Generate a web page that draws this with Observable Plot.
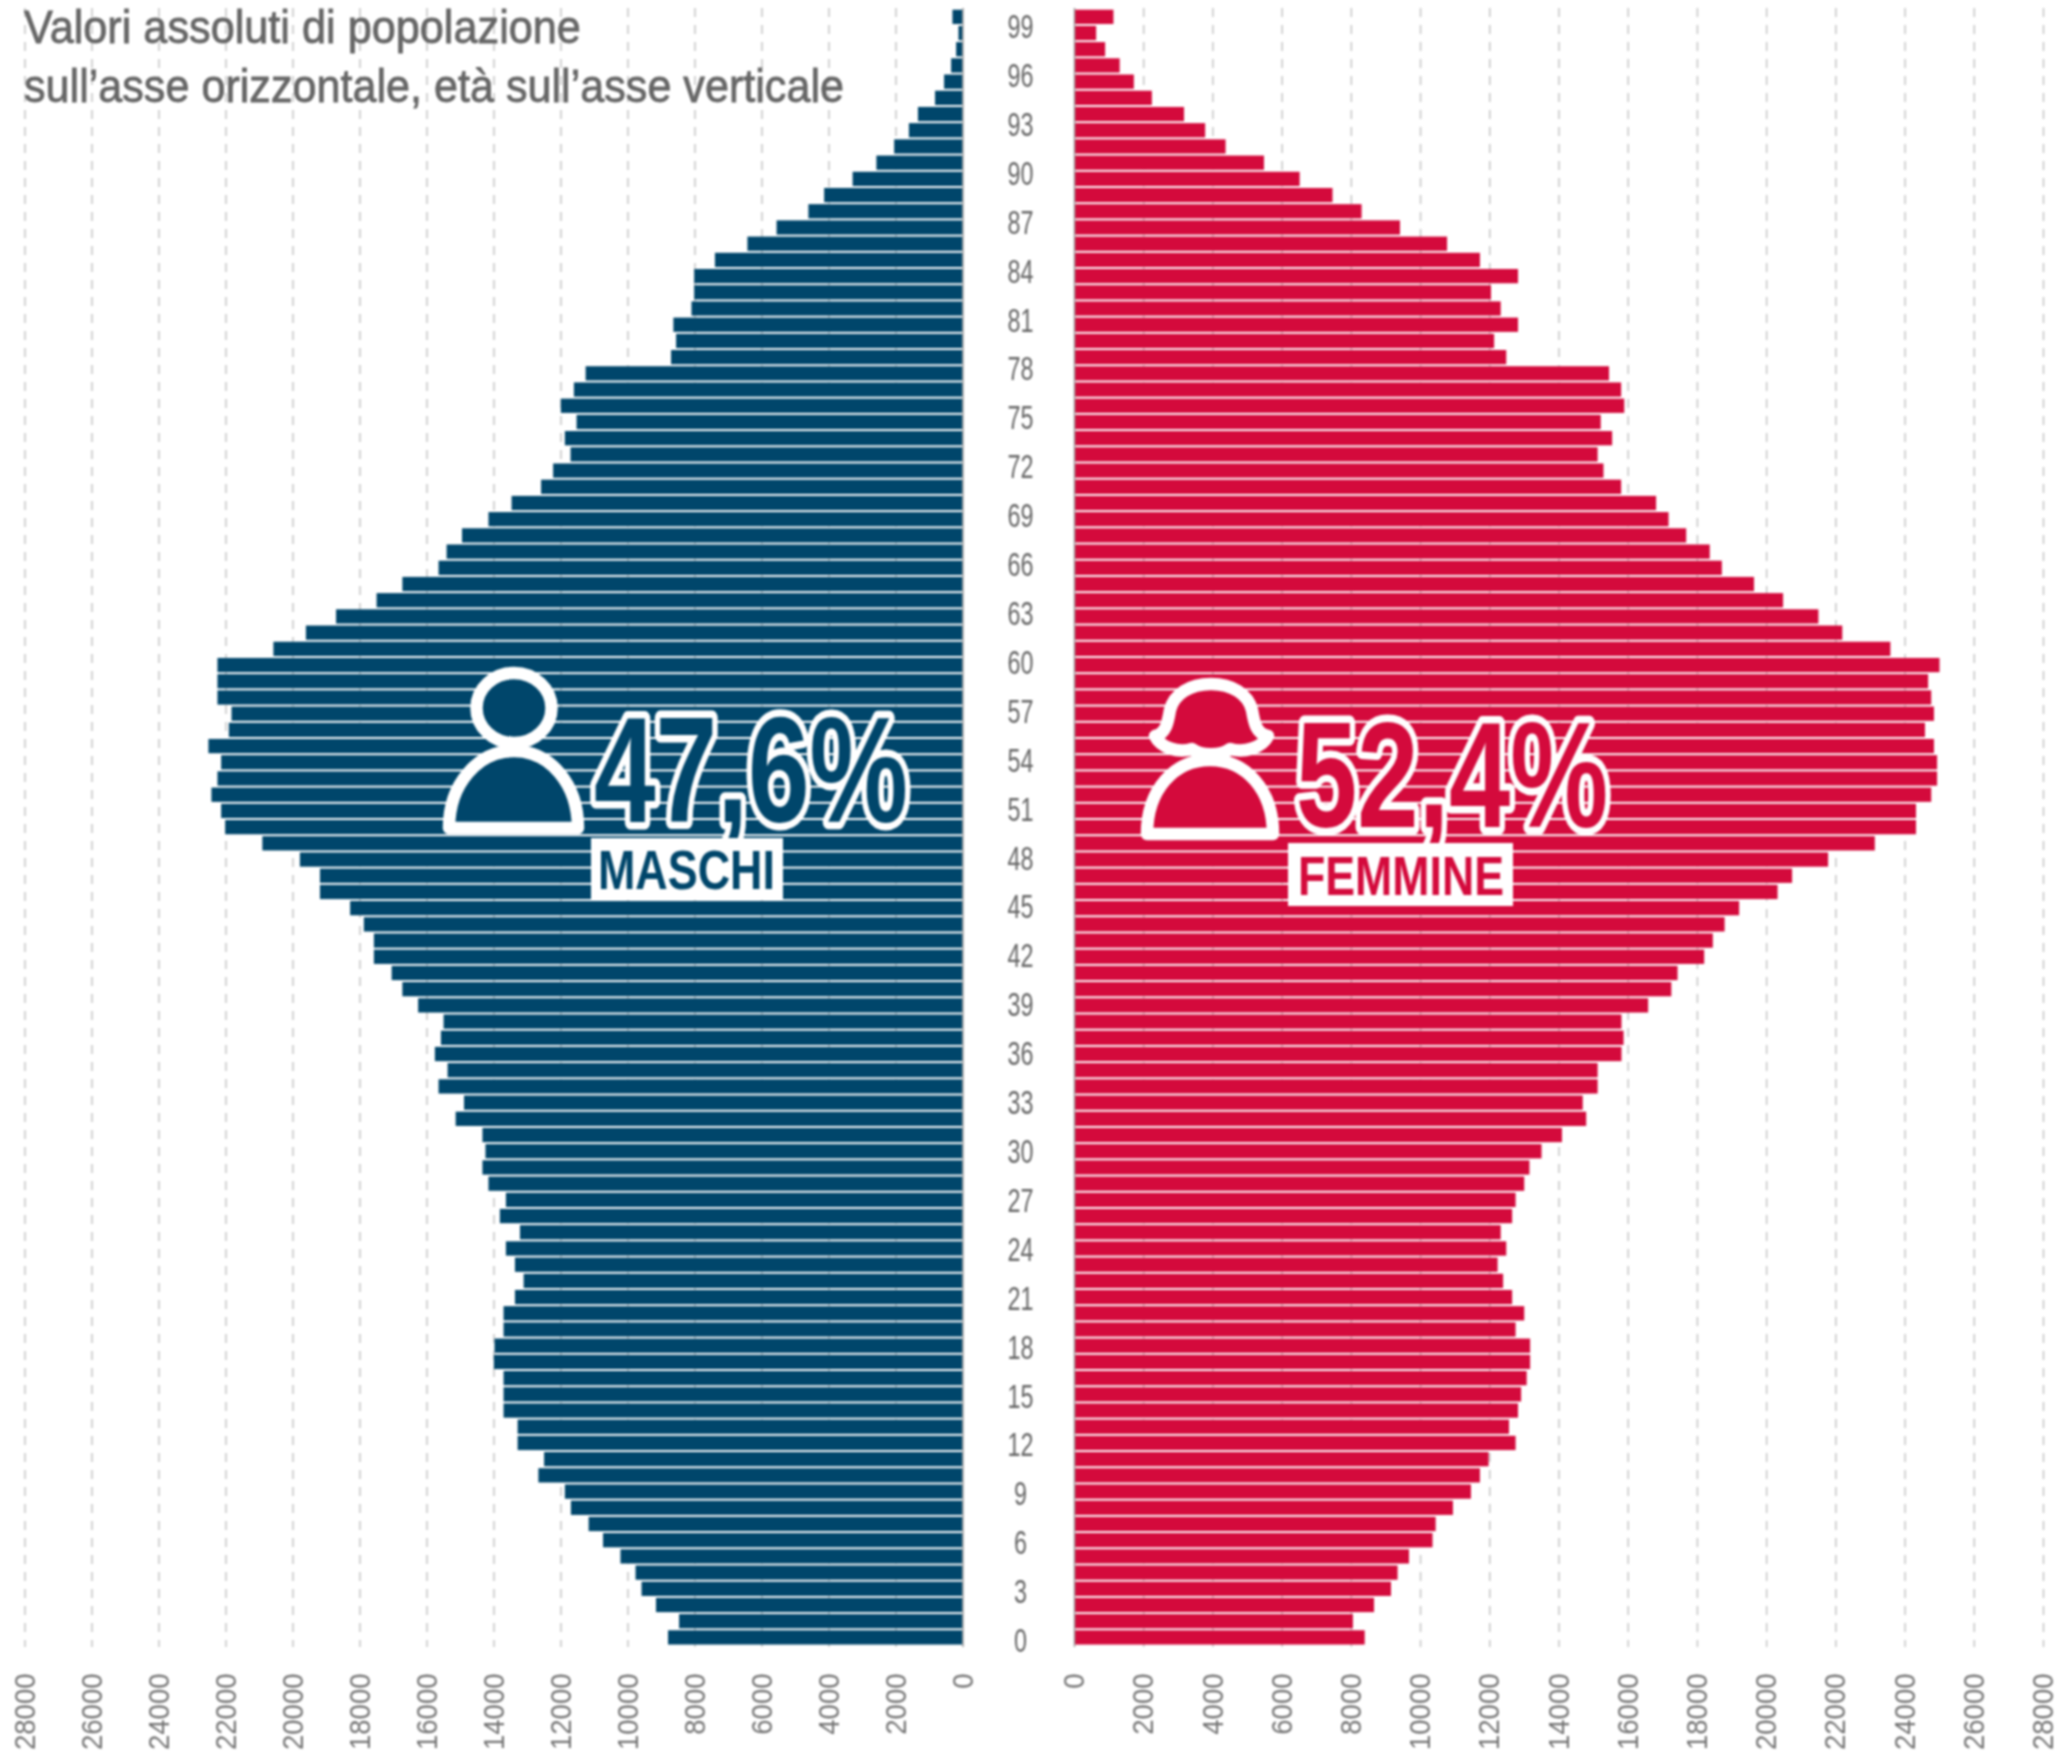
<!DOCTYPE html>
<html lang="it">
<head>
<meta charset="utf-8">
<title>Piramide della popolazione</title>
<script src="https://cdn.jsdelivr.net/npm/d3@7"></script>
<script src="https://cdn.jsdelivr.net/npm/@observablehq/plot@0.6"></script>
<style>
  html, body { margin: 0; padding: 0; background: #fff; }
  #chart { position: relative; width: 2061px; height: 1754px; overflow: hidden; filter: blur(0.8px); }
  #chart > svg { position: absolute; top: 0; overflow: visible; background: transparent; }
</style>
</head>
<body>
<div id="chart"></div>
<script>
// Ages from the top row (100) down to 0
const ages = d3.range(100, -1, -1);

const males = [
  300, 120, 190, 340, 550, 820, 1330, 1600, 2040, 2570,
  3280, 4130, 4600, 5550, 6420, 7390, 8010, 8010, 8090, 8630,
  8550, 8700, 11250, 11600, 11990, 11520, 11870, 11700, 12220, 12580,
  13460, 14150, 14940, 15400, 15640, 16720, 17490, 18700, 19600, 20570,
  22240, 22240, 22240, 21820, 21900, 22510, 22130, 22240, 22420, 22130,
  22010, 20900, 19780, 19180, 19180, 18280, 17870, 17570, 17570, 17040,
  16720, 16250, 15490, 15570, 15750, 15370, 15640, 14880, 15130, 14330,
  14240, 14330, 14150, 13630, 13810, 13210, 13630, 13360, 13100, 13360,
  13700, 13700, 13970, 13990, 13700, 13700, 13700, 13280, 13280, 12490,
  12660, 11870, 11690, 11160, 10730, 10210, 9760, 9580, 9150, 8460,
  8790
];

const females = [
  1140, 640, 900, 1320, 1730, 2250, 3180, 3790, 4380, 5490,
  6520, 7470, 8310, 9420, 10780, 11730, 12830, 12050, 12330, 12830,
  12140, 12490, 15460, 15810, 15900, 15220, 15550, 15130, 15300, 15810,
  16820, 17180, 17690, 18370, 18720, 19650, 20490, 21510, 22200, 23590,
  25010, 24680, 24770, 24850, 24590, 24850, 24940, 24940, 24770, 24330,
  24330, 23140, 21790, 20750, 20330, 19220, 18800, 18460, 18210, 17440,
  17260, 16590, 15820, 15880, 15820, 15130, 15130, 14700, 14800, 14100,
  13510, 13160, 13010, 12760, 12660, 12330, 12490, 12240, 12400, 12660,
  13010, 12760, 13180, 13180, 13080, 12920, 12830, 12570, 12760, 11980,
  11730, 11470, 10950, 10450, 10360, 9680, 9350, 9160, 8670, 8060,
  8400
];

const xTicks = d3.range(0, 28001, 2000);
const ageTicks = d3.range(0, 100, 3);

const titleLines = ["Valori assoluti di popolazione", "sull’asse orizzontale, età sull’asse verticale"];
const maleShare = "47,6%", maleLabel = "MASCHI";
const femaleShare = "52,4%", femaleLabel = "FEMMINE";

const NAVY = "#00466b", RED = "#d40a3c", GRID = "#c4c4c4", INK = "#666666", TICK = "#747474";
const SANS = "'Liberation Sans',sans-serif";
const yScale = {type: "band", domain: ages, range: [7.76, 1646.5], padding: 0.12, round: false, axis: null};

// No condensed face is installed: squeeze the regular one to the reference's widths
const squeeze = (sel, perChar) => sel
  .attr("textLength", function () { return this.textContent.length * perChar; })
  .attr("lengthAdjust", "spacingAndGlyphs");

function side(values, fill, opts) {
  const rows = ages.map((age, i) => ({age, value: values[i]}));
  const plot = Plot.plot({
    width: opts.width, height: 1754,
    marginTop: 8, marginBottom: 107, marginLeft: opts.marginLeft, marginRight: opts.marginRight,
    x: {domain: opts.domain, range: opts.range, axis: null},
    y: yScale,
    marks: [
      Plot.ruleX(xTicks.filter(d => d > 0), {stroke: GRID, strokeWidth: 1.5, strokeDasharray: "9 8"}),
      Plot.barX(rows, {x: "value", y: "age", fill}),
      Plot.ruleX([0], {stroke: "#999", strokeWidth: 1.5}),
      Plot.axisX({
        ticks: xTicks, tickFormat: d => String(d), anchor: "bottom",
        tickRotate: -90, tickSize: 0, tickPadding: 26, fontSize: 30,
        fontFamily: SANS, color: TICK, label: null, ariaLabel: "x-axis"
      })
    ]
  });
  squeeze(d3.select(plot).selectAll('g[aria-label="x-axis"] text, g[aria-label="x-axis tick label"] text'), 15.3);
  return plot;
}

const root = document.getElementById("chart");

const left = side(males, NAVY, {width: 1000, marginLeft: 24.5, marginRight: 37.5, domain: [28000, 0], range: [24.5, 962.5]});
left.style.left = "0px";
root.append(left);

const mid = Plot.plot({
  width: 40, height: 1754, margin: 0,
  x: {axis: null},
  y: {domain: [99, 0], range: [27, 1641], axis: null},
  marks: [
    Plot.text(ageTicks, {y: d => d, text: d => String(d), frameAnchor: "middle", fontSize: 33, fontFamily: SANS, fill: INK})
  ]
});
squeeze(d3.select(mid).selectAll("text"), 13);
mid.style.left = "1000px";
root.append(mid);

const right = side(females, RED, {width: 1021, marginLeft: 34, marginRight: 18, domain: [0, 28000], range: [34, 1003]});
right.style.left = "1040px";
root.append(right);

// Annotation layer: title, icons, shares
const ns = d3.create("svg").attr("width", 2061).attr("height", 1754).style("left", "0px").style("pointer-events", "none");
root.append(ns.node());

// Place a text and narrow it horizontally to the wanted width
function fit(sel, x, y, len) {
  const k = len / sel.node().getComputedTextLength();
  return sel.attr("transform", `translate(${x},${y}) scale(${k},1)`).style("vector-effect", "non-scaling-stroke");
}

titleLines.forEach((t, i) => fit(ns.append("text")
  .attr("font-family", SANS).attr("font-size", 47).attr("fill", INK)
  .attr("stroke", INK).attr("stroke-width", 0.8)
  .text(t), 24, i ? 102 : 43, i ? 820 : 557));

function share(text, x, y, len, fill) {
  fit(ns.append("text")
    .attr("font-family", SANS).attr("font-weight", 700).attr("font-size", 150)
    .attr("fill", fill).attr("stroke", "#fff").attr("stroke-width", 13)
    .attr("stroke-linejoin", "round").attr("paint-order", "stroke")
    .text(text), x, y, len);
}
function tag(text, bx, by, bw, bh, x, y, len, fill) {
  ns.append("rect").attr("x", bx).attr("y", by).attr("width", bw).attr("height", bh).attr("fill", "#fff");
  fit(ns.append("text")
    .attr("font-family", SANS).attr("font-weight", 700).attr("font-size", 56).attr("fill", fill)
    .text(text), x, y, len);
}
const icon = (fill) => ns.append("g").attr("fill", fill).attr("stroke", "#fff").attr("stroke-width", 12.5).attr("stroke-linejoin", "round");

// Male figure
const m = icon(NAVY);
m.append("path").attr("d", "M449,828 C449,784 478,751 514,751 C550,751 578,784 578,828 Z");
m.append("ellipse").attr("cx", 514).attr("cy", 708).attr("rx", 37.5).attr("ry", 35);
share(maleShare, 594, 822, 314, NAVY);
tag(maleLabel, 591, 838, 192, 62, 598, 889, 177, NAVY);

// Female figure
const f = icon(RED);
f.append("path").attr("d", "M1147,834 C1147,790 1174,760 1210,760 C1246,760 1273,790 1273,834 Z");
f.append("path").attr("d", "M1155,736 C1166,734 1168,722 1170,710 C1174,694 1190,684 1211,684 C1232,684 1248,694 1252,710 C1254,722 1256,734 1268,736 C1262,748 1244,753 1230,749 C1222,756 1200,756 1192,749 C1178,753 1161,748 1155,736 Z");
share(femaleShare, 1296, 827, 312, RED);
tag(femaleLabel, 1288, 843, 225, 63, 1298, 895, 206, RED);
</script>
</body>
</html>
